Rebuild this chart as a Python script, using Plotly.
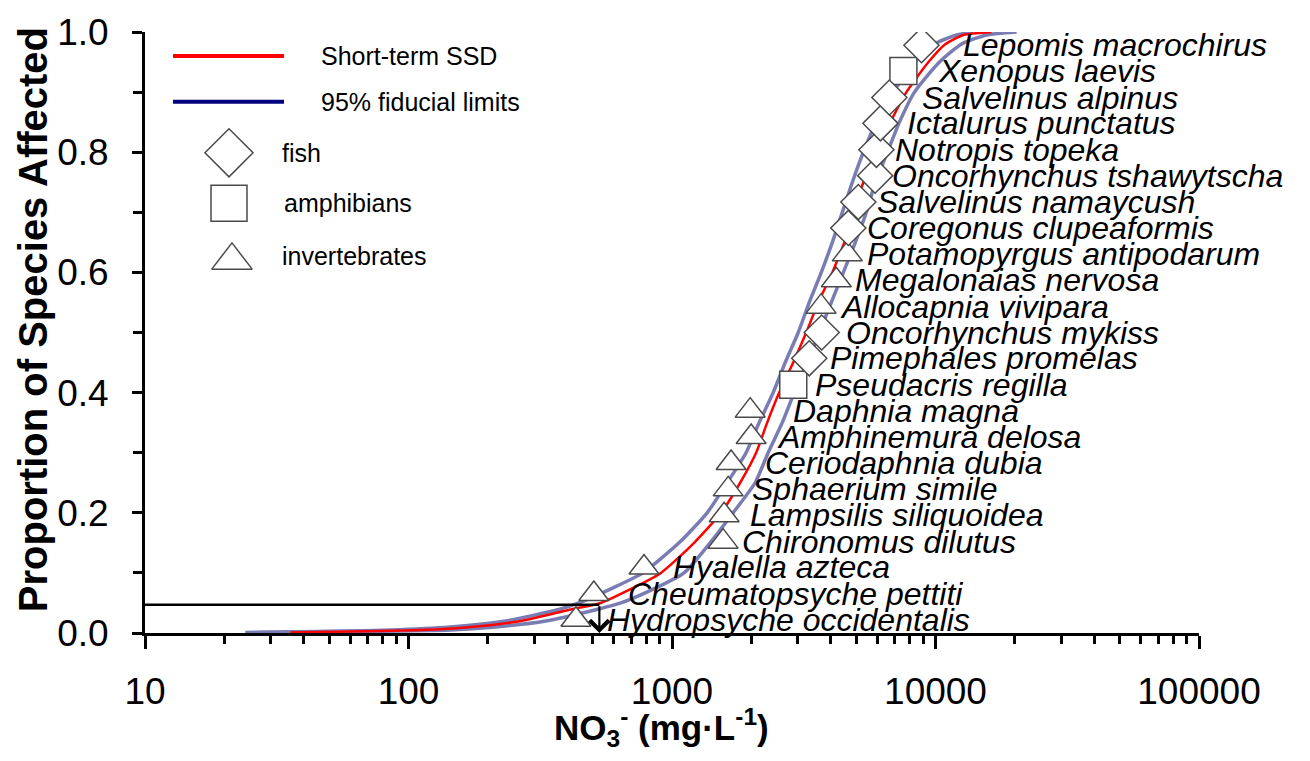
import numpy as np
import plotly.graph_objects as go

# ---------------- data ----------------
species = ["Hydropsyche occidentalis", "Cheumatopsyche pettiti", "Hyalella azteca",
           "Chironomus dilutus", "Lampsilis siliquoidea", "Sphaerium simile",
           "Ceriodaphnia dubia", "Amphinemura delosa", "Daphnia magna",
           "Pseudacris regilla", "Pimephales promelas", "Oncorhynchus mykiss",
           "Allocapnia vivipara", "Megalonaias nervosa", "Potamopyrgus antipodarum",
           "Coregonus clupeaformis", "Salvelinus namaycush", "Oncorhynchus tshawytscha",
           "Notropis topeka", "Ictalurus punctatus", "Salvelinus alpinus",
           "Xenopus laevis", "Lepomis macrochirus"]
group = ["invertebrates"] * 9 + ["amphibians", "fish", "fish", "invertebrates",
         "invertebrates", "invertebrates", "fish", "fish", "fish", "fish", "fish",
         "fish", "amphibians", "fish"]
conc = [432, 505, 783, 1563, 1577, 1634, 1676, 1997, 1980, 2885, 3318, 3700,
        3680, 4203, 4628, 4669, 5096, 5900, 5967, 6179, 6685, 7555, 8847]
prop = [0.022, 0.065, 0.109, 0.152, 0.196, 0.239, 0.283, 0.326, 0.370, 0.413,
        0.457, 0.500, 0.543, 0.587, 0.630, 0.674, 0.717, 0.761, 0.804, 0.848,
        0.891, 0.935, 0.978]

curve_y = [0.001, 0.005, 0.01, 0.02, 0.04, 0.05, 0.075, 0.1, 0.15, 0.2, 0.25, 0.3,
           0.35, 0.4, 0.45, 0.5, 0.55, 0.6, 0.65, 0.7, 0.75, 0.8, 0.85, 0.9, 0.95,
           0.98, 0.995, 1.0]
ssd_x = [35.6, 111, 172, 267, 420, 537, 711, 908, 1213, 1536, 1814, 2086, 2297,
         2552, 2885, 3232, 3591, 4059, 4508, 4920, 5324, 5967, 6745, 7756, 9406,
         10914, 12777, 16327]
fid_left_x = [24.0, 85.4, 144, 234, 378, 443, 597, 776, 1063, 1359, 1619, 1911,
              2141, 2421, 2689, 3014, 3318, 3686, 4059, 4430, 4835, 5324, 5967,
              6923, 8322, 9913, 12020, 13950]
fid_right_x = [27.4, 144, 214, 332, 528, 640, 869, 1111, 1395, 1706, 2068, 2317,
               2620, 2910, 3261, 3622, 4024, 4469, 4963, 5465, 5915, 6570, 7297,
               8322, 10356, 12560, 15630, 20323]

hc5_x = 530
hc5_y = 0.047

x_tickvals = [10, 100, 1000, 10000, 100000]
x_ticktext = ["10", "100", "1000", "10000", "100000"]

# ---------------- styles / positions ----------------
FONT = "Liberation Sans, Arial, sans-serif"
CI_COLOR = "#7a7cb4"
label_dx = [32, 35, 30, 20, 27, 25, 35, 27, 44, 23, 22, 25, 20, 20, 21, 20, 20, 18,
            20, 28, 34, 36, 43]
symbol_map = {"fish": "diamond", "amphibians": "square", "invertebrates": "triangle-up"}
size_map = {"fish": 27, "amphibians": 27, "invertebrates": 26}

fig = go.Figure()

line_shape = dict(shape="spline", smoothing=0.6)
fig.add_trace(go.Scatter(x=fid_left_x, y=curve_y, mode="lines",
                         line=dict(color=CI_COLOR, width=3.5, **line_shape)))
fig.add_trace(go.Scatter(x=fid_right_x, y=curve_y, mode="lines",
                         line=dict(color=CI_COLOR, width=3.5, **line_shape)))
fig.add_trace(go.Scatter(x=ssd_x, y=curve_y, mode="lines",
                         line=dict(color="#ff0000", width=2.5, **line_shape)))

# HC5 horizontal line
fig.add_trace(go.Scatter(x=[10, hc5_x], y=[hc5_y, hc5_y], mode="lines",
                         line=dict(color="black", width=2.5)))

for g in ["invertebrates", "amphibians", "fish"]:
    idx = [i for i, gg in enumerate(group) if gg == g]
    fig.add_trace(go.Scatter(
        x=[conc[i] for i in idx], y=[prop[i] for i in idx], mode="markers",
        marker=dict(symbol=symbol_map[g], size=size_map[g], color="white",
                    line=dict(color="#4a4a4a", width=1.5))))

annotations = []
for i, name in enumerate(species):
    annotations.append(dict(
        x=np.log10(conc[i]), y=prop[i], xref="x", yref="y",
        text="<i>" + name + "</i>", showarrow=False, xanchor="left",
        yanchor="middle", xshift=label_dx[i] - 3,
        font=dict(family=FONT, size=32, color="black")))

# HC5 arrow
annotations.append(dict(
    x=np.log10(hc5_x), y=0, xref="x", yref="y",
    ax=np.log10(hc5_x), ay=hc5_y, axref="x", ayref="y",
    text="", showarrow=True, arrowhead=4, arrowsize=1.7, arrowwidth=2.2,
    arrowcolor="black", standoff=0, startstandoff=0))

# axis titles
annotations.append(dict(
    x=-0.1063, y=0.522, xref="paper", yref="paper", textangle=-90,
    text="<b>Proportion of Species Affected</b>", showarrow=False,
    xanchor="center", yanchor="middle",
    font=dict(family=FONT, size=40, color="black")))
annotations.append(dict(
    x=0.4896, y=-0.158, xref="paper", yref="paper",
    text="<b>NO<sub>3</sub><sup>-</sup> (mg·L<sup>-1</sup>)</b>", showarrow=False,
    xanchor="center", yanchor="middle",
    font=dict(family=FONT, size=35, color="black")))

# manual legend
leg_text = [("Short-term SSD", 0.165, 0.960), ("95% fiducial limits", 0.165, 0.884),
            ("fish", 0.128, 0.798), ("amphibians", 0.130, 0.715),
            ("invertebrates", 0.128, 0.627)]
for t, lx, ly in leg_text:
    annotations.append(dict(x=lx, y=ly, xref="paper", yref="paper", text=t,
                            showarrow=False, xanchor="left", yanchor="middle",
                            font=dict(family=FONT, size=25, color="black")))

shapes = [
    dict(type="line", xref="paper", yref="paper", x0=0.0266, x1=0.1319, y0=0.960,
         y1=0.960, line=dict(color="#ff0000", width=4)),
    dict(type="line", xref="paper", yref="paper", x0=0.0266, x1=0.1319, y0=0.884,
         y1=0.884, line=dict(color="#00007f", width=4)),
]

leg_marks = [("diamond", 37, 0.0797, 0.799), ("square", 36, 0.0797, 0.715),
             ("triangle-up", 35, 0.0825, 0.620)]
for sym, sz, mx, my in leg_marks:
    fig.add_trace(go.Scatter(x=[mx], y=[my], xaxis="x2", yaxis="y2", mode="markers",
                             marker=dict(symbol=sym, size=sz, color="white",
                                         line=dict(color="#4a4a4a", width=1.5))))

fig.update_layout(
    width=1310, height=761,
    margin=dict(l=145, r=111, t=30, b=128),
    paper_bgcolor="white", plot_bgcolor="white",
    showlegend=False,
    font=dict(family=FONT, color="black"),
    xaxis=dict(type="log", range=[1, 5], tickvals=x_tickvals, ticktext=x_ticktext,
               showline=True, linecolor="black", linewidth=3, showgrid=False,
               zeroline=False, ticks="outside", ticklen=13, tickwidth=2.5,
               tickcolor="black", tickfont=dict(family=FONT, size=37),
               ticklabelstandoff=11,
               minor=dict(ticks="outside", ticklen=8, tickwidth=2.5,
                          tickcolor="black", dtick="D1", showgrid=False)),
    yaxis=dict(range=[0, 1], dtick=0.2, tickformat=".1f", showline=True,
               linecolor="black", linewidth=3, showgrid=False, zeroline=False,
               ticks="outside", ticklen=10, tickwidth=3, tickcolor="black",
               tickfont=dict(family=FONT, size=37), ticklabelstandoff=16,
               minor=dict(ticks="outside", ticklen=9, tickwidth=3,
                          tickcolor="black", dtick=0.1, showgrid=False)),
    xaxis2=dict(overlaying="x", range=[0, 1], visible=False, anchor="y2"),
    yaxis2=dict(overlaying="y", range=[0, 1], visible=False, anchor="x2"),
    annotations=annotations,
    shapes=shapes,
)

fig.write_html("out.html")
